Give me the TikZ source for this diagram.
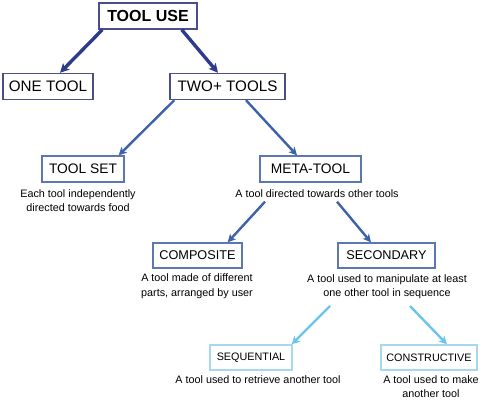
\documentclass[tikz,border=0pt]{standalone}
\usepackage{fontspec}
\setmainfont{Liberation Sans}
\usepackage{xcolor}
\usepackage{tikz}
\usetikzlibrary{arrows.meta,calc}

\definecolor{navy}{HTML}{2E3A8C}
\definecolor{navybox}{HTML}{4A4F8A}
\definecolor{midblue}{HTML}{3D62AB}
\definecolor{midbox}{HTML}{5B78B5}
\definecolor{skyblue}{HTML}{6CC4EA}
\definecolor{skybox}{HTML}{A8D8F0}

\begin{document}
\begin{tikzpicture}[x=1pt,y=-1pt,
    topbox/.style={draw=navybox,line width=1.4pt,fill=white,inner sep=0pt,minimum height=26pt,font=\fontsize{15.2}{18}\selectfont},
    midbox/.style={draw=midbox,line width=1.3pt,fill=white,inner sep=0pt,minimum height=26pt,font=\fontsize{13.8}{16}\selectfont},
    lowbox/.style={draw=skybox,line width=1.3pt,fill=white,inner sep=0pt,minimum height=25pt,font=\fontsize{10.8}{13}\selectfont},
    desc/.style={align=center,inner sep=0pt,font=\fontsize{10.8}{14.5}\selectfont},
    toparrow/.style={draw=navy,line width=3.4pt,-{Stealth[length=9pt,width=9pt,inset=2pt]}},
    midarrow/.style={draw=midblue,line width=2.4pt,-{Stealth[length=8pt,width=8pt,inset=2pt]}},
    lowarrow/.style={draw=skyblue,line width=2.4pt,-{Stealth[length=8pt,width=8pt,inset=2pt]}}]
    \useasboundingbox (0,0) rectangle (484,401);
    % Top level
    \node[topbox,minimum width=98pt,font=\fontsize{16}{18}\selectfont\bfseries] (use) at (148,16) {TOOL USE};
    \node[topbox,minimum width=90pt] (one) at (48,86.5) {ONE TOOL};
    \node[topbox,minimum width=115pt] (two) at (227.5,86.5) {TWO+ TOOLS};
    % Second level
    \node[midbox,minimum width=82pt] (set) at (83,169) {TOOL SET};
    \node[desc] (setdesc) at (78,200.5) {Each tool independently\\directed towards food};
    \node[midbox,minimum width=101pt] (meta) at (310.5,169) {META-TOOL};
    \node[desc] (metadesc) at (317,193.5) {A tool directed towards other tools};
    % Third level
    \node[midbox,minimum width=89pt,minimum height=25pt,font=\fontsize{12.7}{15}\selectfont] (comp) at (197.5,255.5) {COMPOSITE};
    \node[desc] (compdesc) at (197,286) {A tool made of different\\parts, arranged by user};
    \node[midbox,minimum width=97pt,minimum height=25pt,font=\fontsize{12.7}{15}\selectfont] (sec) at (386.5,255.5) {SECONDARY};
    \node[desc] (secdesc) at (387,286.5) {A tool used to manipulate at least\\one other tool in sequence};
    % Fourth level
    \node[lowbox,minimum width=82pt] (seq) at (251,357.5) {SEQUENTIAL};
    \node[desc] (seqdesc) at (258,380) {A tool used to retrieve another tool};
    \node[lowbox,minimum width=96pt] (con) at (429,357.5) {CONSTRUCTIVE};
    \node[desc] (condesc) at (431,386.5) {A tool used to make\\another tool};
    % Arrows
    \draw[toparrow] ([xshift=4pt]use.south west) -- ([xshift=12pt]one.north);
    \draw[toparrow] ([xshift=-16pt]use.south east) -- ([xshift=-9.5pt]two.north);
    \draw[midarrow] ([xshift=5pt]two.south west) -- ([xshift=-6pt]set.north east);
    \draw[midarrow] ([xshift=18.5pt]two.south) -- ([xshift=-13.5pt]meta.north);
    \draw[midarrow] ([xshift=-52pt,yshift=-4pt]metadesc.south) -- ([xshift=-15pt]comp.north east);
    \draw[midarrow] ([xshift=20pt,yshift=-4pt]metadesc.south) -- ([xshift=-15.5pt]sec.north);
    \draw[lowarrow] ([xshift=-57pt,yshift=-7pt]secdesc.south) -- ([xshift=-1pt]seq.north east);
    \draw[lowarrow] ([xshift=23pt,yshift=-7pt]secdesc.south) -- ([xshift=18pt]con.north);
\end{tikzpicture}
\end{document}
